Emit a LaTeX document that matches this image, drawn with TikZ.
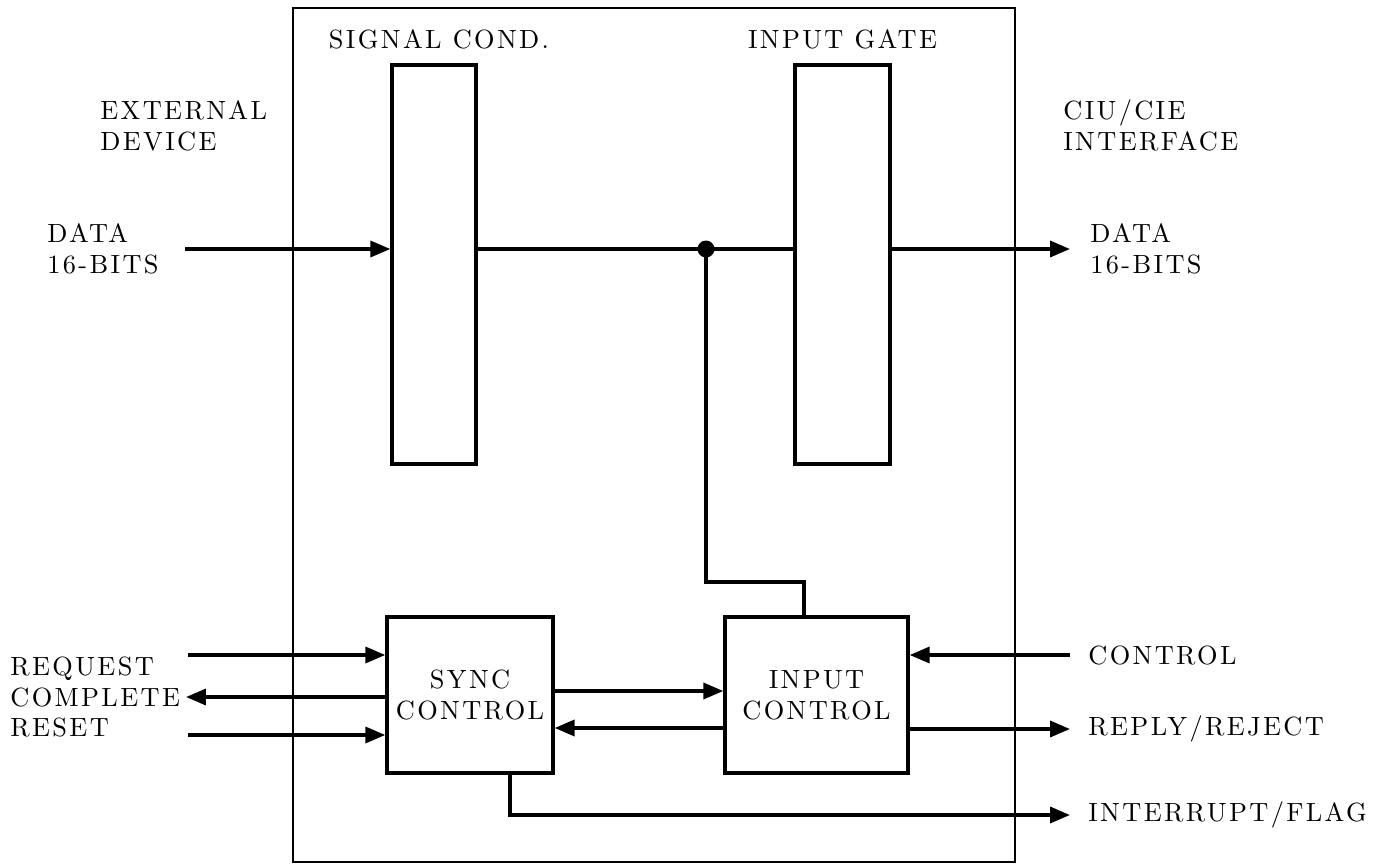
\documentclass[tikz,border=0pt]{standalone}
\usepackage{fontspec}
\usetikzlibrary{arrows.meta,positioning}
\newfontfamily\lblfam{lmroman10-regular.otf}[LetterSpace=9]
\newcommand\lblfont{\lblfam\fontsize{15}{17.6}\selectfont}
\tikzset{>={Triangle[length=4mm,width=3.2mm]}}

\begin{document}
\begin{tikzpicture}[x=0.02cm, y=-0.02cm,
				frame/.style={rectangle, draw=black, line width=1.2pt, inner sep=0pt},
				blk/.style={rectangle, draw=black, line width=1.9pt, inner sep=0pt, align=center, font=\lblfont},
				lbl/.style={inner sep=0pt, align=left, anchor=west, font=\lblfont},
				arrow/.style={->, line width=2pt, draw=black},
				wire/.style={line width=2pt, draw=black}]
				
				\useasboundingbox (0,0) rectangle (1383,865);
				
				% boxes
				\node[frame, minimum width=14.44cm, minimum height=17.08cm] (unit) at (654,435) {};
				\node[blk, minimum width=1.68cm, minimum height=7.98cm] (sigc) at (434,264.5) {};
				\node[blk, minimum width=1.9cm, minimum height=7.98cm] (gate) at (842.5,264.5) {};
				\node[blk, minimum width=3.32cm, minimum height=3.12cm] (sync) at (470,695) {SYNC\\CONTROL};
				\node[blk, minimum width=3.66cm, minimum height=3.12cm] (inctl) at (816.5,695) {INPUT\\CONTROL};
				
				% titles and labels
				\node[lbl, anchor=south, above=0.28cm of sigc, xshift=0.1cm] (sigct) {SIGNAL COND.};
				\node[lbl, anchor=south, above=0.28cm of gate] (gatet) {INPUT GATE};
				\node[lbl] (extdev) at (100,125.5) {EXTERNAL\\DEVICE};
				\node[lbl] (ciu) at (1063,125.5) {CIU/CIE\\INTERFACE};
				\node[lbl] (dinl) at (47,249) {DATA\\16-BITS};
				\node[lbl] (doutl) at (1090,249) {DATA\\16-BITS};
				\node[lbl] (hsk) at (10,697) {REQUEST\\COMPLETE\\RESET};
				\node[lbl] (ctll) at (1088,655) {CONTROL};
				\node[lbl] (rpll) at (1088,729) {REPLY/REJECT};
				\node[lbl] (irql) at (1088,815) {INTERRUPT/FLAG};
				
				% free ends
				\coordinate (din) at (185,249);
				\coordinate (dout) at (1070,249);
				\coordinate (jn) at (706,249);
				\coordinate (kink) at (804,582);
				\coordinate (req) at (188,655);
				\coordinate (cmp) at (186,697);
				\coordinate (rst) at (188,735);
				\coordinate (ctl) at (1070,655);
				\coordinate (rpl) at (1070,729);
				\coordinate (irq) at (1070,815);
				
				% data path
				\draw[arrow] (din) -- (din -| sigc.west);
				\draw[wire] (din -| sigc.east) -- (din -| gate.west);
				\draw[arrow] (din -| gate.east) -- (dout);
				\fill (jn) circle (0.17cm);
				\draw[wire] (jn) |- (kink) -- (kink |- inctl.north);
				
				% control
				\draw[arrow] (req) -- (req -| sync.west);
				\draw[arrow] (cmp -| sync.west) -- (cmp);
				\draw[arrow] (rst) -- (rst -| sync.west);
				\draw[arrow] ([yshift=0.08cm]sync.east) -- ([yshift=0.08cm]inctl.west);
				\draw[arrow] ([yshift=-0.66cm]inctl.west) -- ([yshift=-0.66cm]sync.east);
				\draw[arrow] (ctl) -- (ctl -| inctl.east);
				\draw[arrow] (rpl -| inctl.east) -- (rpl);
				\draw[arrow] ([xshift=0.8cm]sync.south) |- (irq);
				
			\end{tikzpicture}
\end{document}
